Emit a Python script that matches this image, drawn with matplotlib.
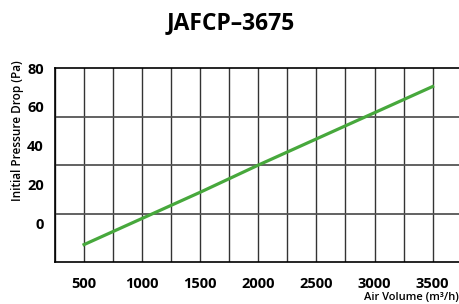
import matplotlib.pyplot as plt
from matplotlib.ticker import MultipleLocator, FixedLocator

air_volume = [500, 1000, 1500, 2000, 2500, 3000, 3500]
pressure_drop = [-11, 2.5, 16, 30, 43.5, 57, 70.5]
y_ticks = [0, 20, 40, 60, 80]

plt.rcParams['font.family'] = ['Open Sans', 'DejaVu Sans']

fig = plt.figure(figsize=(4.6, 3.04), dpi=100)
ax = fig.add_axes([0.1196, 0.138, 0.884, 0.638])

ax.plot(air_volume, pressure_drop, color='#47a83c', linewidth=2.3, zorder=3)

ax.set_xlim(250, 3750)
ax.set_ylim(-20, 80)

# labels every 500, grid lines every 250
ax.xaxis.set_major_locator(MultipleLocator(500))
ax.xaxis.set_minor_locator(MultipleLocator(250))
ax.set_xticks(air_volume)
ax.grid(True, axis='x', which='both', color='#333333', linewidth=1.0)

# y labels don't sit on the grid lines in the original
ax.set_yticks(y_ticks)
ax.yaxis.set_minor_locator(FixedLocator([5, 30, 55]))
ax.grid(True, axis='y', which='minor', color='#555555', linewidth=1.3)
ax.grid(False, axis='y', which='major')

ax.tick_params(which='both', length=0)
ax.tick_params(axis='x', pad=11, labelsize=10.5)
ax.tick_params(axis='y', pad=8, labelsize=10.5)
for lbl in ax.get_xticklabels() + ax.get_yticklabels():
    lbl.set_fontweight('bold')

ax.spines['right'].set_visible(False)
for s in ['left', 'top', 'bottom']:
    ax.spines[s].set_color('black')
    ax.spines[s].set_linewidth(1.2)

fig.text(0.501, 0.925, 'JAFCP–3675', ha='center', va='center',
         fontsize=16.5, fontweight='bold')
fig.text(0.039, 0.57, 'Initial Pressure Drop (Pa)', rotation=90,
         ha='center', va='center', fontsize=8.5, fontweight='semibold')
fig.text(0.998, 0.004, 'Air Volume (m³/h)', ha='right', va='bottom',
         fontsize=8, fontweight='semibold')

fig.savefig('out.png', dpi=100)
